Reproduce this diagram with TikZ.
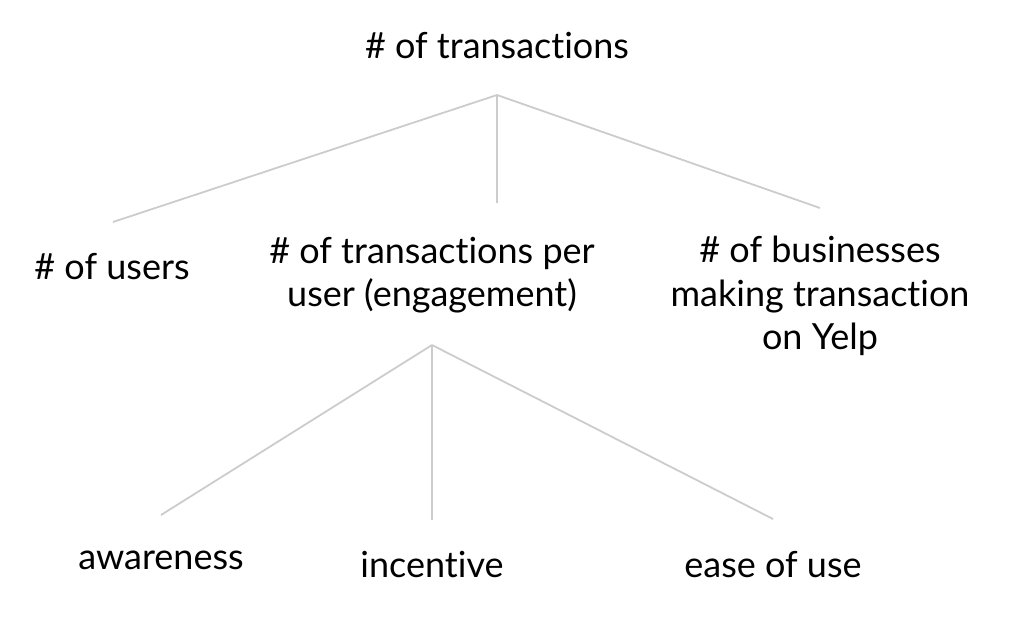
\documentclass[tikz,border=0pt]{standalone}
\usepackage{fontspec}
\setmainfont{Lato}[Ligatures={NoCommon}]
\begin{document}
\begin{tikzpicture}[x=1pt,y=-1pt,
  lbl/.style={align=center,inner sep=0pt,font=\fontsize{36}{43.5}\selectfont,text=black},
  branch/.style={draw=black!20,line width=1.8pt}]
\useasboundingbox (0,0) rectangle (1018,622);
\node[lbl] (top) at (497,46) {\# of transactions};
\node[lbl] (users) at (112,267) {\# of users};
\node[lbl] (per) at (432,275) {\# of transactions per\\user (engagement)};
\node[lbl] (biz) at (820,296) {\# of businesses\\making transaction\\on Yelp};
\node[lbl] (aware) at (161,560) {awareness};
\node[lbl] (inc) at (432,565) {incentive};
\node[lbl] (ease) at (773,565) {ease of use};
\coordinate (h1) at (497,95);
\coordinate (e1) at (113,222);
\coordinate (e2) at (497,203);
\coordinate (e3) at (820,208);
\coordinate (h2) at (432,345);
\coordinate (f1) at (161,515);
\coordinate (f2) at (432,520);
\coordinate (f3) at (773,519);
\draw[branch] (h1) -- (e1);
\draw[branch] (h1) -- (e2);
\draw[branch] (h1) -- (e3);
\draw[branch] (h2) -- (f1);
\draw[branch] (h2) -- (f2);
\draw[branch] (h2) -- (f3);
\end{tikzpicture}
\end{document}
